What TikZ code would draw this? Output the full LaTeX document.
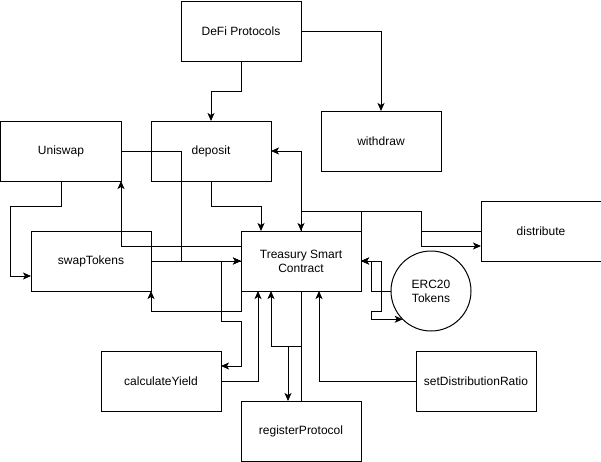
\documentclass[tikz,border=0pt]{standalone}
\usepackage{fontspec}
\setmainfont{Liberation Sans}
\usepackage{tikz}
\usetikzlibrary{positioning}
\usetikzlibrary{shapes,arrows,arrows.meta}

\begin{document}
\begin{tikzpicture}[x=1pt,y=-1pt]
\tikzstyle{box}=[rectangle, minimum width=120pt, minimum height=60pt, outer sep=0pt, line width=1pt, draw=black, font=\fontsize{12}{14}\selectfont, align=center]
\tikzstyle{token}=[circle, minimum size=80pt, outer sep=0pt, line width=1pt, draw=black, font=\fontsize{12}{14}\selectfont, align=center]
\tikzstyle{line}=[line width=1pt]
\tikzstyle{connect}=[-{Stealth[length=8pt,width=7pt,inset=2pt]}, line width=1pt]
\tikzstyle{both}=[{Stealth[length=8pt,width=7pt,inset=2pt]}-{Stealth[length=8pt,width=7pt,inset=2pt]}, line width=1pt]
\fill[white] (-1,-1) rectangle (600,460);
\useasboundingbox (-1,-1) rectangle (600,460);
	\node[box] (defi) at (240,30) {DeFi Protocols};
	\node[box] (withdraw) at (380,140) {withdraw};
	\node[box] (uniswap) at (60,150) {Uniswap};
	\node[box] (deposit) at (210,150) {deposit};
	\node[box] (swap) at (90,260) {swapTokens};
	\node[box] (treasury) at (300,260) {Treasury Smart\\Contract};
	\node[box] (distribute) at (540,230) {distribute};
	\node[token] (erc) at (430,290) {ERC20\\Tokens};
	\node[box] (calc) at (160,380) {calculateYield};
	\node[box] (register) at (300,430) {registerProtocol};
	\node[box] (setratio) at (475,380) {setDistributionRatio};

	\draw[connect] (defi.south) -- ++(0,30) -| (deposit.north);
	\draw[connect] (defi.east) -| (withdraw.north);
	\draw[connect] (deposit.south) -- ++(0,25) -| ([xshift=-40pt]treasury.north);
	\draw[both] (deposit.east) -| (treasury.north);
	\draw[line] (distribute.west) -- ++(-60,0) -- ++(0,-20) -| (treasury.north);
	\draw[connect] (treasury.north east) -- ++(0,-20) -- ++(60,0) |- ([yshift=-15pt]distribute.west);
	\draw[connect] (uniswap.east) -- ++(60,0) |- (treasury.west);
	\draw[connect] (swap.east) -- (treasury.west);
	\draw[connect] ([yshift=15pt]treasury.west) -| (uniswap.south east);
	\draw[connect] (uniswap.south) -- ++(0,25) -- ++(-50,0) |- ([yshift=-15pt]swap.west);
	\draw[connect] (treasury.south west) -- ++(0,20) -| (swap.south east);
	\draw[connect] (treasury.west) -- ++(-20,0) -- ++(0,60) -- ++(20,0) |- ([yshift=15pt]calc.east);
	\draw[connect] (calc.east) -| ([xshift=-43pt]treasury.south);
	\draw[connect] (register.north) -- ++(0,-55) -| ([xshift=-30pt]treasury.south);
	\draw[connect] (treasury.south) -- ++(0,55) -| ([xshift=-13pt]register.north);
	\draw[connect] (setratio.west) -| ([xshift=18pt]treasury.south);
	\draw[connect] (erc.west) -- ++(-20,0) |- (treasury.east);
	\draw[both] (treasury.east) -- ++(20,0) -- ++(0,50) -- ++(-10,0) |- (erc.south west);
\end{tikzpicture}
\end{document}
